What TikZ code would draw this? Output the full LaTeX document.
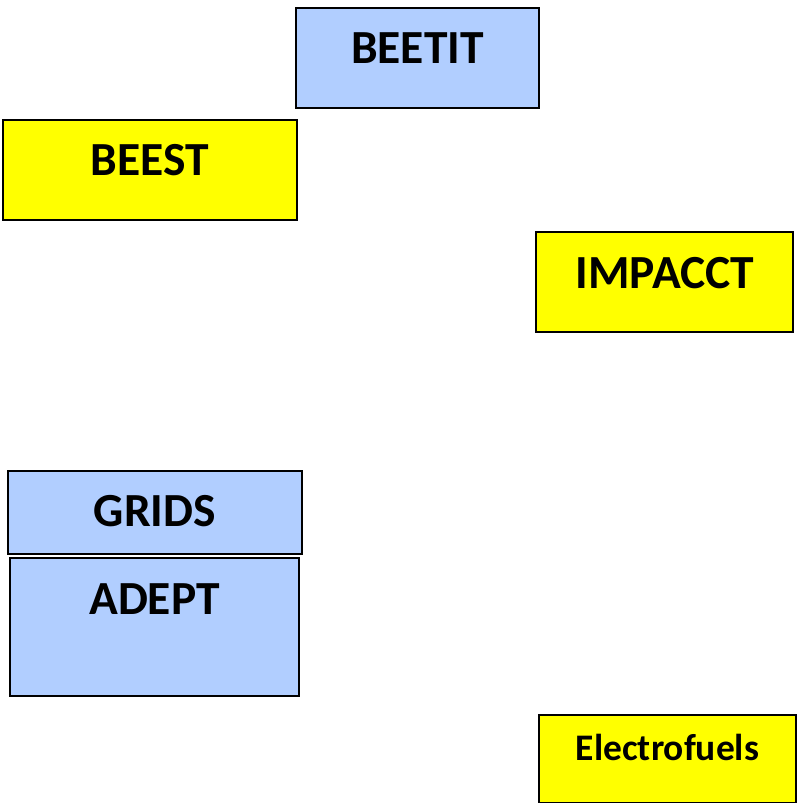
\documentclass[tikz,border=0pt]{standalone}
\usepackage{fontspec}
\setmainfont{Carlito}
\definecolor{boxblue}{RGB}{177,206,255}
\definecolor{boxyellow}{RGB}{255,255,0}
\begin{document}
\begin{tikzpicture}[x=1pt,y=-1pt,
  boxbase/.style={draw=black,line width=1.8pt,rectangle,inner sep=0pt},
  bluebox/.style={boxbase,fill=boxblue},
  yellowbox/.style={boxbase,fill=boxyellow},
  biglbl/.style={anchor=base,inner sep=0pt,font=\fontsize{47.5}{52}\selectfont\bfseries},
  smalllbl/.style={anchor=base,inner sep=0pt,font=\fontsize{37.5}{41}\selectfont\bfseries}]
\useasboundingbox (0,0) rectangle (801,803);
\node[bluebox,minimum width=243pt,minimum height=100pt] (beetit) at (417.5,58) {};
\node[biglbl] (beetitT) at (417.5,63.5) {BEETIT};
\node[yellowbox,minimum width=294pt,minimum height=100pt] (beest) at (150,170) {};
\node[biglbl] (beestT) at (150,175.5) {BEEST};
\node[yellowbox,minimum width=257pt,minimum height=100pt] (impacct) at (664.5,282) {};
\node[biglbl] (impacctT) at (665,288.5) {IMPACCT};
\node[bluebox,minimum width=294pt,minimum height=83pt] (grids) at (155,512.5) {};
\node[biglbl] (gridsT) at (155,526.5) {GRIDS};
\node[bluebox,minimum width=289pt,minimum height=138pt] (adept) at (154.5,627) {};
\node[biglbl] (adeptT) at (154.5,614.5) {ADEPT};
\node[yellowbox,minimum width=257pt,minimum height=88pt] (efuels) at (667.5,759) {};
\node[smalllbl] (efuelsT) at (667.5,760.5) {Electrofuels};
\end{tikzpicture}
\end{document}
